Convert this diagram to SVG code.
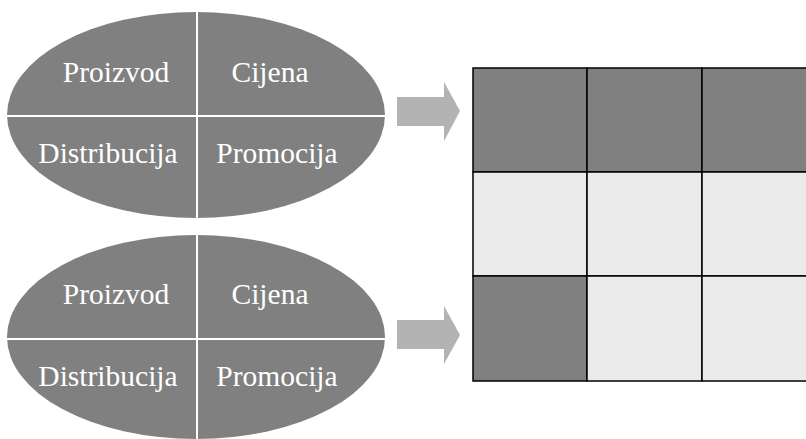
<svg xmlns="http://www.w3.org/2000/svg" width="806" height="439" viewBox="0 0 806 439">
<style>
.ell{fill:#808080}
.div{stroke:#ffffff;stroke-width:2;fill:none}
.lbl{font-family:"Liberation Serif","Times New Roman",serif;font-size:29.5px;fill:#ffffff;text-anchor:middle}
.arr{fill:#b3b3b3}
.dk{fill:#808080;stroke:#000;stroke-width:1.5}
.lt{fill:#ebebeb;stroke:#000;stroke-width:1.5}
</style>
<rect width="806" height="439" fill="#ffffff"/>
<g id="mix1">
<ellipse class="ell" cx="196" cy="115" rx="189" ry="103"/>
<line class="div" x1="197" y1="10" x2="197" y2="220"/>
<line class="div" x1="6" y1="116" x2="386" y2="116"/>
<text class="lbl" x="116" y="82">Proizvod</text>
<text class="lbl" x="270" y="82">Cijena</text>
<text class="lbl" x="108" y="163">Distribucija</text>
<text class="lbl" x="277" y="163">Promocija</text>
</g>
<g id="mix2">
<ellipse class="ell" cx="196" cy="337" rx="189" ry="102"/>
<line class="div" x1="197" y1="233" x2="197" y2="439"/>
<line class="div" x1="6" y1="339" x2="386" y2="339"/>
<text class="lbl" x="116" y="304">Proizvod</text>
<text class="lbl" x="270" y="304">Cijena</text>
<text class="lbl" x="108" y="386">Distribucija</text>
<text class="lbl" x="277" y="386">Promocija</text>
</g>
<g id="connectors">
<polygon class="arr" points="397,97 444,97 444,82 460,111 444,141 444,126 397,126"/>
<polygon class="arr" points="397,320 444,320 444,306 460,335 444,364 444,349 397,349"/>
</g>
<g id="grid">
<rect class="dk" x="473" y="68" width="114" height="104"/>
<rect class="dk" x="587" y="68" width="115" height="104"/>
<rect class="dk" x="702" y="68" width="115" height="104"/>
<rect class="lt" x="473" y="172" width="114" height="104"/>
<rect class="lt" x="587" y="172" width="115" height="104"/>
<rect class="lt" x="702" y="172" width="115" height="104"/>
<rect class="dk" x="473" y="276" width="114" height="105"/>
<rect class="lt" x="587" y="276" width="115" height="105"/>
<rect class="lt" x="702" y="276" width="115" height="105"/>
</g>
</svg>
